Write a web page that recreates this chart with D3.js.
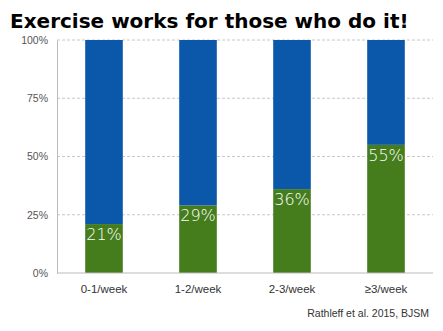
<!DOCTYPE html>
<html><head><meta charset="utf-8">
<script src="https://cdn.jsdelivr.net/npm/d3@7"></script>
<style>body{margin:0;background:#fff;} svg{display:block;}</style>
</head><body>
<script>
const title = "Exercise works for those who do it!";
const categories = ["0-1/week", "1-2/week", "2-3/week", "≥3/week"];
const greenValues = [21, 29, 36, 55];
const blueValues = [79, 71, 64, 45];
const yTicks = [0, 25, 50, 75, 100];
const source = "Rathleff et al. 2015, BJSM";

const W = 443, H = 331;
const m = {left: 57, right: 10, top: 40, bottom: 58};
const svg = d3.select("body").append("svg").attr("width", W).attr("height", H);

const x = d3.scaleBand().domain(categories).range([m.left, W - m.right]).paddingInner(0.6).paddingOuter(0.3);
const y = d3.scaleLinear().domain([0, 100]).range([H - m.bottom, m.top]);

svg.append("text").attr("x", 10).attr("y", 28).text(title)
  .attr("font-family", "DejaVu Sans, sans-serif").attr("font-weight", "bold").attr("font-size", 20).attr("fill", "#000");

// grid
svg.append("g").selectAll("line").data(yTicks.filter(d => d > 0)).join("line")
  .attr("x1", m.left).attr("x2", W - m.right).attr("y1", d => y(d)).attr("y2", d => y(d))
  .attr("stroke", "#c8c8c8").attr("stroke-dasharray", "3,2").attr("stroke-width", 1);

// y axis labels
const yAxis = d3.axisLeft(y).tickValues(yTicks).tickFormat(d => d + "%").tickSize(0).tickPadding(9);
const gy = svg.append("g").attr("transform", `translate(${m.left},0)`).call(yAxis);
gy.select(".domain").attr("stroke", "#bbb");
gy.selectAll("text").attr("font-family", "Liberation Sans, sans-serif").attr("font-size", 10.5).attr("fill", "#555");

// bars
const g = svg.append("g");
g.selectAll("rect.green").data(categories).join("rect").attr("class", "green")
  .attr("x", d => x(d)).attr("width", x.bandwidth())
  .attr("y", (d, i) => y(greenValues[i])).attr("height", (d, i) => y(0) - y(greenValues[i]))
  .attr("fill", "#457d1c");
g.selectAll("rect.blue").data(categories).join("rect").attr("class", "blue")
  .attr("x", d => x(d)).attr("width", x.bandwidth())
  .attr("y", (d, i) => y(greenValues[i] + blueValues[i])).attr("height", (d, i) => y(greenValues[i]) - y(greenValues[i] + blueValues[i]))
  .attr("fill", "#0b58ab");

g.selectAll("text.val").data(categories).join("text").attr("class", "val")
  .attr("x", d => x(d) + x.bandwidth() / 2).attr("y", (d, i) => y(greenValues[i]) + 16)
  .attr("text-anchor", "middle").text((d, i) => greenValues[i] + "%")
  .attr("font-family", "DejaVu Sans, sans-serif").attr("font-weight", 300).attr("font-size", 16).attr("fill", "#fff");

// x axis
const xAxis = d3.axisBottom(x).tickSize(0).tickPadding(12);
const gx = svg.append("g").attr("transform", `translate(0,${y(0)})`).call(xAxis);
gx.select(".domain").attr("stroke", "#bbb").attr("d", `M${m.left},0H${W - m.right}`);
gx.selectAll("text").attr("font-family", "Liberation Sans, sans-serif").attr("font-size", 11.5).attr("fill", "#333");

svg.append("text").attr("x", 429).attr("y", 317).attr("text-anchor", "end").text(source)
  .attr("font-family", "Liberation Sans, sans-serif").attr("font-size", 10.5).attr("fill", "#333");
</script>
</body></html>
